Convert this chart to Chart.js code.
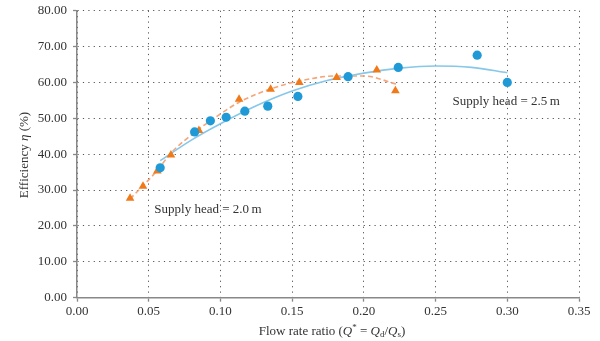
<!DOCTYPE html>
<html>
<head>
<meta charset="utf-8">
<script src="https://cdn.jsdelivr.net/npm/chart.js@4/dist/chart.umd.min.js"></script>
<style>
html,body{margin:0;padding:0;background:#fff;}
#wrap{width:600px;height:341px;position:relative;}
</style>
</head>
<body>
<div id="wrap"><canvas id="c" width="600" height="341"></canvas></div>
<script>
// ---- data ----
const head25X = [0.058, 0.082, 0.093, 0.104, 0.117, 0.133, 0.154, 0.189, 0.224, 0.279, 0.300];
const head25Y = [36.2, 46.2, 49.3, 50.3, 52.0, 53.4, 56.1, 61.6, 64.2, 67.6, 60.0];
const head20X = [0.037, 0.046, 0.056, 0.0655, 0.085, 0.113, 0.135, 0.155, 0.181, 0.209, 0.222];
const head20Y = [27.7, 31.1, 35.3, 39.8, 46.6, 55.3, 58.1, 60.0, 61.4, 63.5, 57.7];
// fitted trend curves
const fit25X = [0.058, 0.080, 0.100, 0.125, 0.150, 0.175, 0.200, 0.225, 0.250, 0.275, 0.300];
const fit25Y = [38.2, 44.0, 48.5, 53.5, 57.6, 60.6, 62.6, 64.0, 64.6, 64.2, 62.7];
const fit20X = [0.037, 0.056, 0.0655, 0.085, 0.100, 0.113, 0.135, 0.155, 0.180, 0.200, 0.223];
const fit20Y = [27.5, 35.5, 40.3, 47.0, 51.2, 54.5, 58.2, 60.4, 61.8, 61.8, 59.5];
const xTicks = [0, 0.05, 0.10, 0.15, 0.20, 0.25, 0.30, 0.35];
const yTicks = [0, 10, 20, 30, 40, 50, 60, 70, 80];
const labels = [
  {text: 'Supply head = 2.5\u2009m', x: 0.2618, y: 54.6},
  {text: 'Supply head = 2.0\u2009m', x: 0.0539, y: 24.6}
];

const pts = (xs, ys) => xs.map((x, i) => ({x: x, y: ys[i]}));
const BLUE = '#1f9ad7', BLUE_L = '#86c7ea', ORANGE = '#f07a1a', ORANGE_L = '#f5a57a';
const SERIF = '"Liberation Serif", "DejaVu Serif", serif';

const decor = {
  id: 'decor',
  afterDraw(chart) {
    const ctx = chart.ctx, xs = chart.scales.x, ys = chart.scales.y;
    ctx.save();
    ctx.fillStyle = '#333';
    ctx.textBaseline = 'middle';
    ctx.font = '13px ' + SERIF;
    labels.forEach(l => {
      ctx.textAlign = 'left';
      ctx.fillText(l.text, xs.getPixelForValue(l.x), ys.getPixelForValue(l.y));
    });
    // x axis title with italic / sub / superscripts
    const parts = [
      {t: 'Flow rate ratio (', f: '13px ' + SERIF, dy: 0},
      {t: 'Q', f: 'italic 13px ' + SERIF, dy: 0},
      {t: '*', f: '9px ' + SERIF, dy: -4},
      {t: ' = ', f: '13px ' + SERIF, dy: 0},
      {t: 'Q', f: 'italic 13px ' + SERIF, dy: 0},
      {t: 'd', f: '9px ' + SERIF, dy: 3},
      {t: '/', f: '13px ' + SERIF, dy: 0},
      {t: 'Q', f: 'italic 13px ' + SERIF, dy: 0},
      {t: 's', f: '9px ' + SERIF, dy: 3},
      {t: ')', f: '13px ' + SERIF, dy: 0}
    ];
    let total = 0;
    parts.forEach(p => { ctx.font = p.f; p.w = ctx.measureText(p.t).width; total += p.w; });
    let cx = 332 - total / 2;
    const cy = 332;
    ctx.textAlign = 'left';
    parts.forEach(p => { ctx.font = p.f; ctx.fillText(p.t, cx, cy + p.dy); cx += p.w; });
    // y axis title
    ctx.translate(25, 155);
    ctx.rotate(-Math.PI / 2);
    const yp = [
      {t: 'Efficiency ', f: '13px ' + SERIF},
      {t: '\u03b7', f: 'italic 13px ' + SERIF},
      {t: ' (%)', f: '13px ' + SERIF}
    ];
    total = 0;
    yp.forEach(p => { ctx.font = p.f; p.w = ctx.measureText(p.t).width; total += p.w; });
    cx = -total / 2;
    yp.forEach(p => { ctx.font = p.f; ctx.fillText(p.t, cx, 0); cx += p.w; });
    ctx.restore();
  }
};

new Chart(document.getElementById('c'), {
  type: 'scatter',
  data: {
    datasets: [
      {label: 'fit 2.5 m', data: pts(fit25X, fit25Y), showLine: true, borderColor: BLUE_L, borderWidth: 1.6,
       pointRadius: 0, tension: 0.4, cubicInterpolationMode: 'monotone', fill: false, order: 3},
      {label: 'fit 2.0 m', data: pts(fit20X, fit20Y), showLine: true, borderColor: ORANGE_L, borderWidth: 1.6,
       borderDash: [5, 3], pointRadius: 0, tension: 0.4, cubicInterpolationMode: 'monotone', fill: false, order: 4},
      {label: 'Supply head = 2.5 m', data: pts(head25X, head25Y), backgroundColor: BLUE, borderColor: BLUE,
       pointStyle: 'circle', pointRadius: 4.6, borderWidth: 0, order: 1},
      {label: 'Supply head = 2.0 m', data: pts(head20X, head20Y), backgroundColor: ORANGE, borderColor: ORANGE,
       pointStyle: 'triangle', pointRadius: 5, borderWidth: 0, order: 2}
    ]
  },
  options: {
    responsive: false,
    animation: false,
    devicePixelRatio: 1,
    layout: {padding: {left: 0, right: 21, top: 0, bottom: 0}},
    plugins: {legend: {display: false}, tooltip: {enabled: false}},
    scales: {
      x: {
        type: 'linear', min: 0, max: 0.35,
        afterBuildTicks: s => { s.ticks = xTicks.map(v => ({value: v})); },
        afterFit: s => { s.height = 43.3; },
        ticks: {callback: v => v.toFixed(2), color: '#333', font: {family: SERIF, size: 13}, padding: 2, maxRotation: 0},
        grid: {color: '#555', lineWidth: 1, tickColor: '#888', tickLength: 4, tickBorderDash: [], tickWidth: 1.3},
        border: {display: true, color: '#888', width: 1.5, dash: [1.2, 4.2]}
      },
      y: {
        type: 'linear', min: 0, max: 80,
        afterBuildTicks: s => { s.ticks = yTicks.map(v => ({value: v})); },
        afterFit: s => { s.width = 77; s.paddingTop = 10.7; },
        ticks: {callback: v => v.toFixed(2), color: '#333', font: {family: SERIF, size: 13}, padding: 6},
        grid: {color: '#555', lineWidth: 1, tickColor: '#888', tickLength: 4, tickBorderDash: [], tickWidth: 1.3},
        border: {display: true, color: '#888', width: 1.5, dash: [1.2, 4.2]}
      }
    }
  },
  plugins: [decor]
});
</script>
</body>
</html>
